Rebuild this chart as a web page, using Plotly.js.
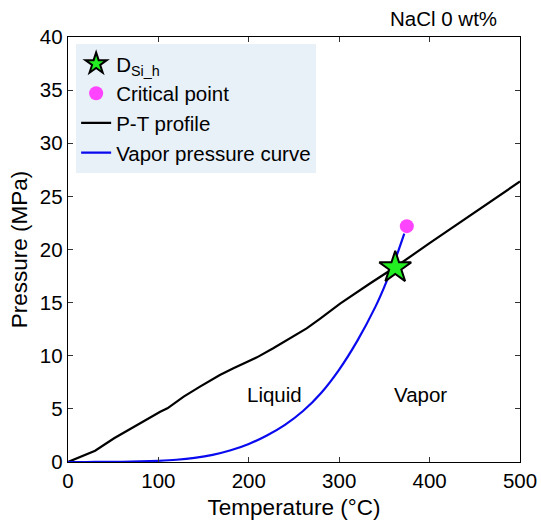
<!DOCTYPE html>
<html>
<head>
<meta charset="utf-8">
<script src="https://cdn.plot.ly/plotly-3.0.1.min.js"></script>
<style>html,body{margin:0;padding:0;background:#fff;}#chart{width:541px;height:526px;}</style>
</head>
<body>
<div id="chart"></div>
<script>
// P-T profile (black)
const ptTemp = [0, 30, 51, 73, 102, 110, 128, 146, 168, 183, 209, 227, 242, 264, 279, 301, 334, 363, 400, 450, 500];
const ptPres = [0, 1.06, 2.23, 3.32, 4.73, 5.05, 6.15, 7.09, 8.19, 8.82, 9.85, 10.7, 11.48, 12.58, 13.5, 14.9, 16.8, 18.4, 20.6, 23.5, 26.4];
// Vapor pressure curve (blue)
const vpTemp = [0, 20, 40, 60, 80, 100, 120, 140, 160, 180, 200, 220, 240, 260, 280, 300, 320, 340, 350, 360, 372];
const vpPres = [0.0006, 0.0023, 0.0074, 0.02, 0.05, 0.11, 0.21, 0.39, 0.67, 1.1, 1.7, 2.5, 3.5, 4.8, 6.5, 8.7, 11.4, 14.6, 16.5, 18.6, 21.5];
// Points
const starTemp = [362];
const starPres = [18.3];
const critTemp = [374.8];
const critPres = [22.2];
// Labels
const regionLabels = ["Liquid", "Vapor"];
const regionTemp = [228, 390];
const regionPres = [6.4, 6.4];
const seriesNames = ["D<sub>Si_h</sub>", "Critical point", "P-T profile", "Vapor pressure curve"];
const xTickVals = [0, 100, 200, 300, 400, 500];
const yTickVals = [0, 5, 10, 15, 20, 25, 30, 35, 40];

const font = "Liberation Sans, Arial, Helvetica, sans-serif";

const traces = [
  {x: ptTemp, y: ptPres, mode: "lines", name: seriesNames[2], line: {color: "#000000", width: 2.2}, legendrank: 3},
  {x: vpTemp, y: vpPres, mode: "lines", name: seriesNames[3], line: {color: "#0a0aef", width: 2.2, shape: "spline"}, legendrank: 4},
  {x: critTemp, y: critPres, mode: "markers", name: seriesNames[1], marker: {color: "#ff44ff", size: 14, line: {width: 0}}, legendrank: 2},
  {x: starTemp, y: starPres, mode: "markers", name: seriesNames[0], marker: {symbol: "star", color: "#22ee22", size: 24, line: {color: "#000000", width: 2}}, legendrank: 1}
];

const axisCommon = {
  showline: true, linecolor: "#000000", linewidth: 1.3, mirror: "ticks",
  ticks: "inside", ticklen: 5, tickwidth: 1.1, tickcolor: "#333",
  showgrid: false, zeroline: false,
  tickfont: {family: font, size: 20.5, color: "#000"}
};

const layout = {
  width: 541, height: 526,
  margin: {l: 67.5, r: 21, t: 37, b: 64},
  paper_bgcolor: "#ffffff", plot_bgcolor: "#ffffff",
  font: {family: font, color: "#000"},
  showlegend: true,
  legend: {
    x: 0.018, y: 0.984, xanchor: "left", yanchor: "top",
    bgcolor: "#e8f0f8", borderwidth: 0,
    font: {family: font, size: 20.5, color: "#000"},
    traceorder: "normal"
  },
  xaxis: Object.assign({}, axisCommon, {
    range: [0, 500], tickvals: xTickVals,
    title: {text: "Temperature (°C)", font: {family: font, size: 22.5, color: "#000"}, standoff: 8}
  }),
  yaxis: Object.assign({}, axisCommon, {
    range: [0, 40], tickvals: yTickVals,
    title: {text: "Pressure (MPa)", font: {family: font, size: 22.5, color: "#000"}, standoff: 6}
  }),
  annotations: [
    {x: regionTemp[0], y: regionPres[0], text: regionLabels[0], showarrow: false, font: {family: font, size: 20.5, color: "#000"}},
    {x: regionTemp[1], y: regionPres[1], text: regionLabels[1], showarrow: false, font: {family: font, size: 20.5, color: "#000"}},
    {xref: "paper", yref: "paper", x: 0.954, y: 1, xanchor: "right", yanchor: "bottom", yshift: 5, text: "NaCl 0 wt%", showarrow: false, font: {family: font, size: 20.5, color: "#000"}}
  ]
};

Plotly.newPlot("chart", traces, layout, {displayModeBar: false, staticPlot: true});
</script>
</body>
</html>
